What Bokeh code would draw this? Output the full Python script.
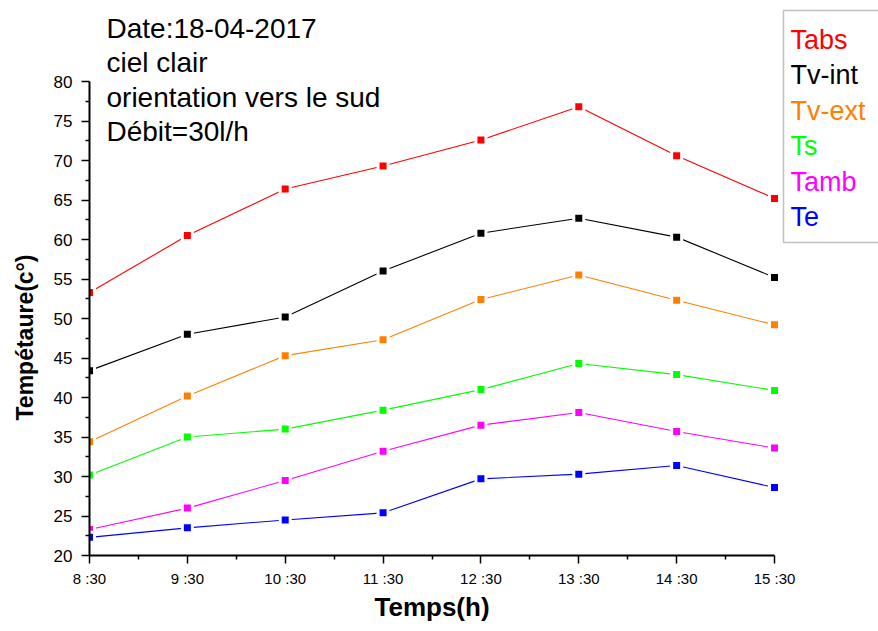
from bokeh.plotting import figure
from bokeh.models import FixedTicker, Label, BoxAnnotation, Range1d, Title
from bokeh.embed import file_html
from bokeh.resources import INLINE

# ---- data ----
times = ["8 :30", "9 :30", "10 :30", "11 :30", "12 :30", "13 :30", "14 :30", "15 :30"]
tabs = [53.3, 60.5, 66.4, 69.3, 72.6, 76.8, 70.6, 65.2]
tv_int = [43.4, 48.0, 50.2, 56.0, 60.8, 62.7, 60.3, 55.2]
tv_ext = [34.4, 40.2, 45.3, 47.3, 52.4, 55.5, 52.3, 49.2]
ts = [30.2, 35.0, 36.0, 38.4, 41.0, 44.3, 42.9, 40.9]
tamb = [23.3, 26.0, 29.5, 33.2, 36.5, 38.1, 35.7, 33.6]
te = [22.3, 23.5, 24.5, 25.4, 29.7, 30.3, 31.4, 28.6]

series_names = ["Tabs", "Tv-int", "Tv-ext", "Ts", "Tamb", "Te"]
series_values = [tabs, tv_int, tv_ext, ts, tamb, te]
series_colors = ["#FF0000", "#000000", "#FF8000", "#00FF00", "#FF00FF", "#0000FF"]

notes = ["Date:18-04-2017", "ciel clair", "orientation vers le sud", "Débit=30l/h"]

x_title = "Temps(h)"
y_title = "Tempétaure(c°)"

y_ticks = [20, 25, 30, 35, 40, 45, 50, 55, 60, 65, 70, 75, 80]

# ---- layout (canvas pixels) ----
W, H = 878, 631
FL, FB = 89, 555           # frame left / bottom
X_AX_END = 774             # pixel of last x tick
Y_AX_TOP = 81              # pixel of y = 80
Y0, Y1 = 20, 80
XN = len(times) - 1
PXX = (X_AX_END - FL) / XN
PXY = (FB - Y_AX_TOP) / (Y1 - Y0)
X_END = XN + (W - X_AX_END) / PXX
Y_END = Y1 + Y_AX_TOP / PXY

def dx(px):
    return (px - FL) / PXX

def dy(py):
    return Y1 - (py - Y_AX_TOP) / PXY

FONT = "Liberation Sans"

p = figure(width=W, height=H, output_backend="svg", toolbar_location=None,
           x_range=Range1d(0, X_END), y_range=Range1d(Y0, Y_END),
           min_border_left=FL, min_border_right=0,
           min_border_top=0, min_border_bottom=H - FB)
p.outline_line_color = None
p.xgrid.visible = False
p.ygrid.visible = False
p.background_fill_color = "white"
p.border_fill_color = "white"

x = list(range(len(times)))
for vals, col in zip(series_values, series_colors):
    p.line(x, vals, line_color=col, line_width=1.1)
    p.scatter(x, vals, marker="square", size=10, fill_color=col,
              line_color="white", line_width=3)

# axes
xa = p.xaxis[0]
xa.bounds = (0, XN)
xa.ticker = FixedTicker(ticks=x, minor_ticks=[i + 0.5 for i in x[:-1]])
xa.major_label_overrides = {i: t for i, t in enumerate(times)}
xa.major_label_text_font = FONT
xa.major_label_text_font_size = "15px"
xa.major_label_standoff = 6

ya = p.yaxis[0]
ya.bounds = (Y0, Y1)
ya.ticker = FixedTicker(ticks=y_ticks, minor_ticks=[t + 2.5 for t in y_ticks[:-1]])
ya.major_label_text_font = FONT
ya.major_label_text_font_size = "17px"
ya.major_label_standoff = 9

for ax in (xa, ya):
    ax.axis_line_width = 2
    ax.axis_line_color = "black"
    ax.major_tick_line_width = 1.5
    ax.minor_tick_line_width = 1.5
    ax.major_tick_out = 8
    ax.major_tick_in = 0
    ax.minor_tick_out = 4
    ax.minor_tick_in = 0
    ax.major_label_text_color = "black"

# axis titles placed as side-panel titles (centred on the axis extent, not the frame)
p.add_layout(Title(text=x_title, align="left", offset=285, vertical_align="top",
                   standoff=4, text_font=FONT, text_font_style="bold",
                   text_font_size="26px", text_color="black"), "below")
p.add_layout(Title(text=y_title, align="left", offset=135, vertical_align="top",
                   standoff=22, text_font=FONT, text_font_style="bold",
                   text_font_size="23px", text_color="black"), "left")

# annotation text (top-left)
for i, t in enumerate(notes):
    p.add_layout(Label(x=dx(106), y=dy(28 + 34.3 * i), text=t,
                       text_font=FONT, text_font_size="28px",
                       text_color="black", text_baseline="alphabetic"))

# legend box + coloured entries
p.add_layout(BoxAnnotation(left=dx(783), right=dx(960), top=dy(10), bottom=dy(242),
                           fill_alpha=0, line_color="#333333", line_width=1.5))
for i, (name, col) in enumerate(zip(series_names, series_colors)):
    p.add_layout(Label(x=dx(790), y=dy(39 + 35.5 * i), text=name,
                       text_font=FONT, text_font_size="27px",
                       text_color=col, text_baseline="alphabetic"))

open("out.html", "w").write(file_html(p, INLINE))
